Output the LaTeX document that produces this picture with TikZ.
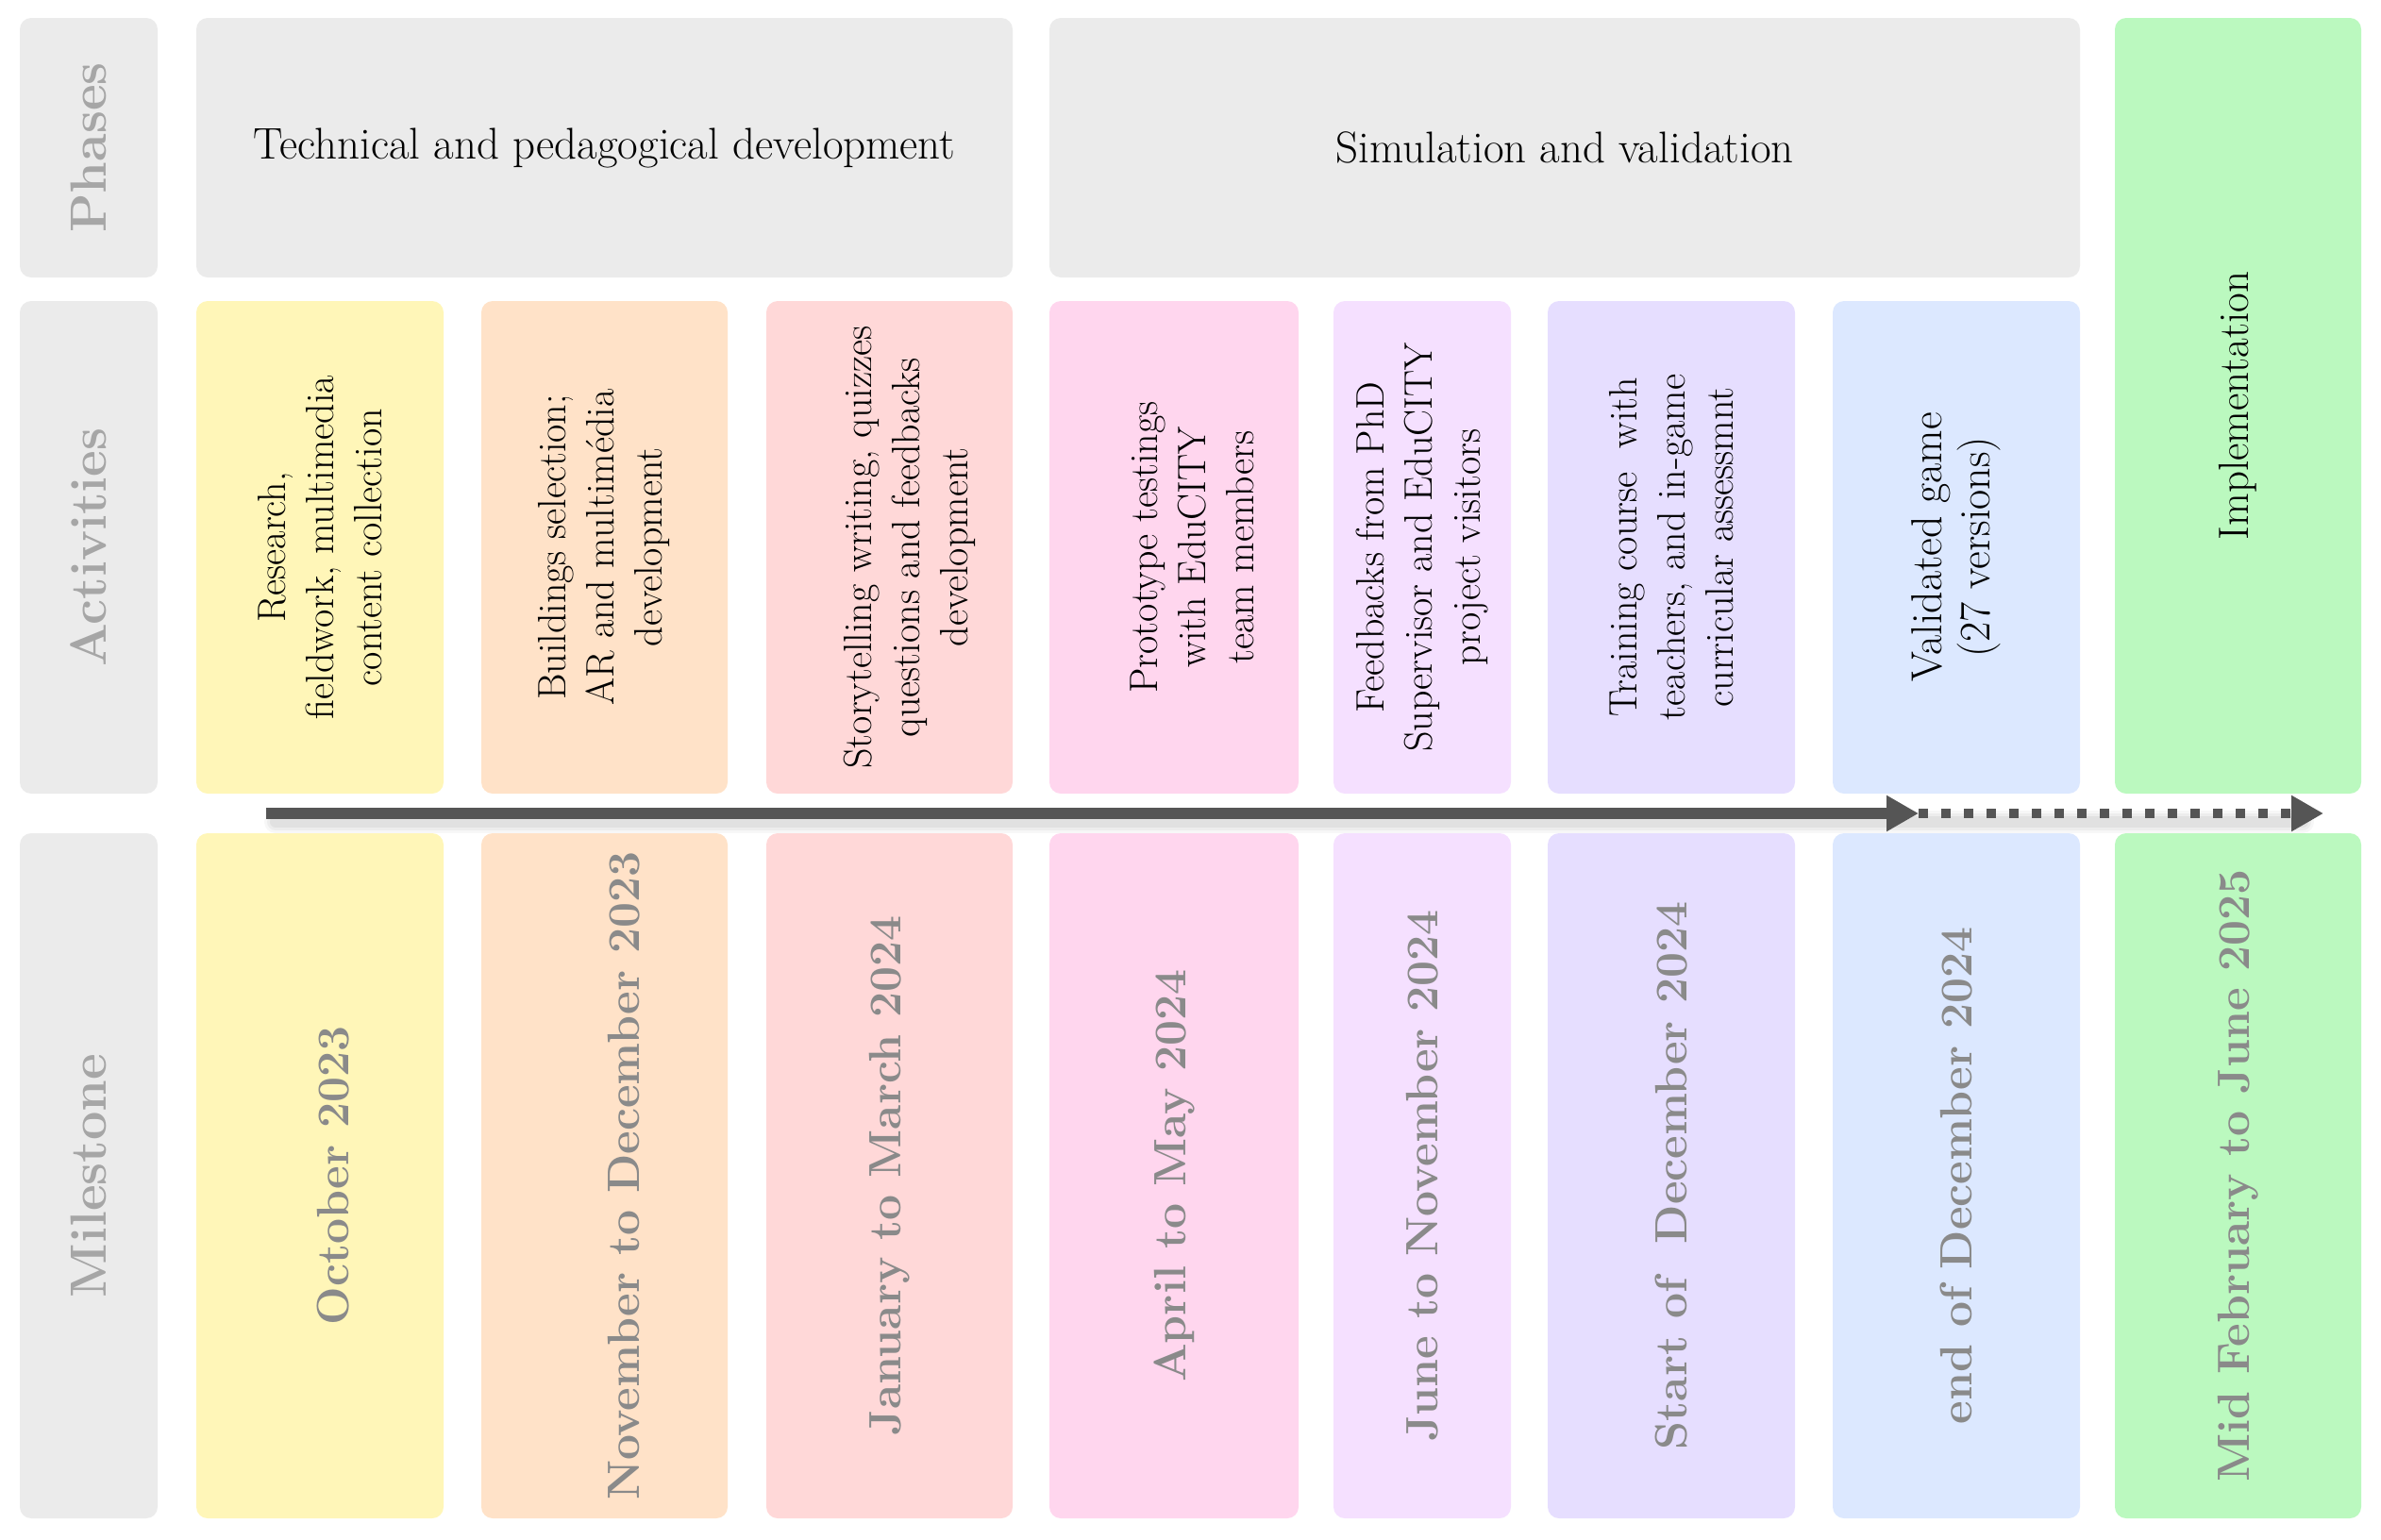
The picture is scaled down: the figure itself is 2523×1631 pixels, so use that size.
\documentclass[tikz,border=0pt]{standalone}
\usepackage{fontspec}
\usetikzlibrary{arrows.meta}
\definecolor{labfill}{HTML}{EBEBEB}
\definecolor{labtxt}{HTML}{A6A6A6}
\definecolor{mstxt}{HTML}{8A8A8A}
\definecolor{cA}{HTML}{FFF6B8}
\definecolor{cB}{HTML}{FFE2C8}
\definecolor{cC}{HTML}{FFD8D8}
\definecolor{cD}{HTML}{FFD6EE}
\definecolor{cE}{HTML}{F5E0FF}
\definecolor{cF}{HTML}{E6DEFF}
\definecolor{cG}{HTML}{DCE8FF}
\definecolor{cH}{HTML}{BBF9BF}
\definecolor{arrowgray}{HTML}{555555}
% shift a (possibly multi-line) text downwards in its own frame, keeping its size
\newcommand\mynudge[2]{\raisebox{-#1}[\height][\depth]{\begin{tabular}{@{}c@{}}#2\end{tabular}}}
\tikzset{
  cell/.style={rounded corners=12pt, inner sep=0pt, align=center, draw=none},
  vcell/.style={cell, rotate=90},
  acttext/.style={font=\fontsize{42}{51}\selectfont, text=black},
  mstext/.style={font=\bfseries\fontsize{48}{56}\selectfont, text=mstxt},
  labtext/.style={font=\bfseries\fontsize{54}{60}\selectfont, text=labtxt},
  phtext/.style={font=\fontsize{47}{54}\selectfont, text=black},
  actrow/.style={vcell, acttext, minimum width=522pt},
  msrow/.style={vcell, mstext, minimum width=726pt},
  timeline/.style={line width=12pt, draw=arrowgray, -{Triangle[length=34pt,width=36pt]}},
  shadowline/.style={draw=black, line cap=round},
}
\begin{document}
\begin{tikzpicture}[x=1pt,y=-1pt]
\useasboundingbox (0,0) rectangle (2523,1631);
% row labels
\node[vcell, labtext, fill=labfill, minimum width=275pt, minimum height=146pt] (lph) at (94,156.5) {Phases};
\node[vcell, labtext, fill=labfill, minimum width=522pt, minimum height=146pt] (lac) at (94,580) {Activities};
\node[vcell, labtext, fill=labfill, minimum width=726pt, minimum height=146pt] (lms) at (94,1246) {Milestone};
% phases
\node[cell, phtext, fill=labfill, minimum width=865pt, minimum height=275pt] (p1) at (640.5,156.5) {Technical and pedagogical development};
\node[cell, phtext, fill=labfill, minimum width=1092pt, minimum height=275pt] (p2) at (1658,156.5) {Simulation and validation};
\node[vcell, fill=cH, font=\fontsize{45}{51}\selectfont, minimum width=822pt, minimum height=261pt] (p3) at (2371.5,430) {Implementation};
% activities
\node[actrow, fill=cA, minimum height=262pt] (a1) at (339,580) {Research,\\fieldwork, multimedia\\content collection};
\node[actrow, fill=cB, minimum height=261pt] (a2) at (640.5,580) {Buildings selection;\\AR and multimédia\\development};
\node[actrow, fill=cC, minimum height=261pt] (a3) at (942.5,580) {\mynudge{22pt}{Storytelling writing, quizzes\\questions and feedbacks\\development}};
\node[actrow, fill=cD, minimum height=264pt] (a4) at (1244,580) {\mynudge{23pt}{Prototype testings\\with EduCITY\\team members}};
\node[actrow, fill=cE, minimum height=188pt] (a5) at (1507,580) {Feedbacks from PhD\\Supervisor and EduCITY\\project visitors};
\node[actrow, fill=cF, minimum height=262pt] (a6) at (1771,580) {Training course\ \ with\\teachers, and in-game\\curricular assessmnt};
\node[actrow, fill=cG, minimum height=262pt, font=\fontsize{46}{51}\selectfont] (a7) at (2073,580) {Validated game\\(27 versions)};
% milestones
\node[msrow, fill=cA, minimum height=262pt] (m1) at (339,1246) {\mynudge{19pt}{October 2023}};
\node[msrow, fill=cB, minimum height=261pt] (m2) at (640.5,1246) {\mynudge{26pt}{November to December 2023}};
\node[msrow, fill=cC, minimum height=261pt] (m3) at (942.5,1246) {January to March 2024};
\node[msrow, fill=cD, minimum height=264pt] (m4) at (1244,1246) {April to May 2024};
\node[msrow, fill=cE, minimum height=188pt] (m5) at (1507,1246) {June to November 2024};
\node[msrow, fill=cF, minimum height=262pt] (m6) at (1771,1246) {Start of\ \ December 2024};
\node[msrow, fill=cG, minimum height=262pt] (m7) at (2073,1246) {end of December 2024};
\node[msrow, fill=cH, minimum height=261pt] (m8) at (2371.5,1246) {Mid February to June 2025};
% timeline
\coordinate (t0) at (282,862);
\coordinate (t1) at (2033,862);
\coordinate (t2) at (2462,862);
\coordinate (s0) at (292,871);
\coordinate (s1) at (2440,871);
\draw[shadowline, line width=24pt, opacity=0.03] (s0) -- (s1);
\draw[shadowline, line width=18pt, opacity=0.04] (s0) -- (s1);
\draw[shadowline, line width=12pt, opacity=0.05] (s0) -- (s1);
\draw[timeline] (t0) -- (t1);
\draw[timeline, line width=10pt, dash pattern=on 10pt off 14pt] (t1) -- (t2);
\end{tikzpicture}
\end{document}
